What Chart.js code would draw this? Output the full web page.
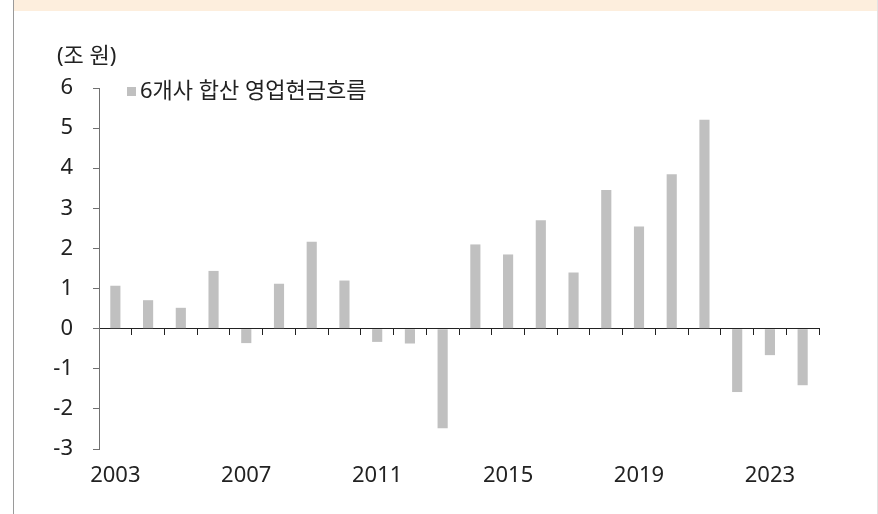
<!DOCTYPE html>
<html>
<head>
<meta charset="utf-8">
<script src="https://cdn.jsdelivr.net/npm/chart.js@4.4.1/dist/chart.umd.min.js"></script>
<style>
  body { margin: 0; background: #fff; }
  #wrap { position: relative; width: 878px; height: 514px; }
  #band { position: absolute; left: 14px; top: 0; width: 863px; height: 11px; background: #fdeedd; }
  #lline { position: absolute; left: 13px; top: 0; width: 1px; height: 514px; background: #9a9a9a; }
  #rline { position: absolute; left: 877px; top: 0; width: 1px; height: 514px; background: #e2e2e2; }
  canvas { position: absolute; left: 0; top: 0; }
</style>
</head>
<body>
<div id="wrap">
  <div id="band"></div>
  <div id="lline"></div>
  <div id="rline"></div>
  <canvas id="myChart" width="878" height="514"></canvas>
</div>
<script>
// 연도
var years = ['2003', '2004', '2005', '2006', '2007', '2008', '2009', '2010', '2011', '2012', '2013',
             '2014', '2015', '2016', '2017', '2018', '2019', '2020', '2021', '2022', '2023', '2024'];
// 6개사 합산 영업현금흐름 (조 원)
var cashFlow = [1.07, 0.71, 0.52, 1.44, -0.36, 1.12, 2.17, 1.20, -0.33, -0.37, -2.48,
                2.10, 1.85, 2.70, 1.40, 3.46, 2.55, 3.85, 5.21, -1.58, -0.66, -1.41];
var seriesName = '6개사 합산 영업현금흐름';
var unitLabel = '(조 원)';
var yMin = -3, yMax = 6;

var FONT = "'Noto Sans', 'Noto Sans CJK KR', sans-serif";
var barColor = '#c0c0c0';

var textPlugin = {
    id: 'texts',
    afterDraw: function(chart) {
        var ctx = chart.ctx;
        ctx.save();
        ctx.font = '22px ' + FONT;
        ctx.fillStyle = '#222';
        ctx.textBaseline = 'middle';
        ctx.textAlign = 'left';
        ctx.fillText(unitLabel, 57, 57);
        // legend
        ctx.fillStyle = barColor;
        ctx.fillRect(127, 87, 9, 9);
        ctx.fillStyle = '#222';
        ctx.fillText(seriesName, 140, 92);
        ctx.restore();
    }
};

var ctx = document.getElementById('myChart');
var chart = new Chart(ctx, {
    type: 'bar',
    data: {
        labels: years,
        datasets: [{
            label: seriesName,
            data: cashFlow,
            backgroundColor: barColor,
            barPercentage: 0.31,
            categoryPercentage: 1.0
        }]
    },
    options: {
        responsive: false,
        animation: false,
        devicePixelRatio: 1,
        layout: { padding: { left: 0, top: 88, right: 59, bottom: 0 } },
        plugins: {
            legend: { display: false },
            tooltip: { enabled: false }
        },
        scales: {
            x: {
                type: 'category',
                position: { y: 0 },
                offset: true,
                grid: { display: true, offset: true, drawOnChartArea: false, tickLength: 6, color: '#222' },
                border: { display: true, color: '#222', width: 1 },
                ticks: { display: false }
            },
            x2: {
                type: 'category',
                position: 'bottom',
                offset: true,
                grid: { display: false, drawTicks: false },
                border: { display: false },
                ticks: {
                    autoSkip: false,
                    maxRotation: 0,
                    padding: 14,
                    color: '#222',
                    font: { family: FONT, size: 22 },
                    callback: function(v, i) { return i % 4 === 0 ? this.getLabelForValue(v) : ''; }
                },
                afterFit: function(scale) { scale.height = 65; }
            },
            y: {
                min: yMin,
                max: yMax,
                ticks: {
                    stepSize: 1,
                    padding: 20,
                    color: '#222',
                    font: { family: FONT, size: 22 }
                },
                grid: { display: true, drawOnChartArea: false, tickLength: 6, color: '#707070' },
                border: { display: true, color: '#707070', width: 1 },
                afterFit: function(scale) { scale.width = 99; }
            }
        }
    },
    plugins: [textPlugin]
});
</script>
</body>
</html>
